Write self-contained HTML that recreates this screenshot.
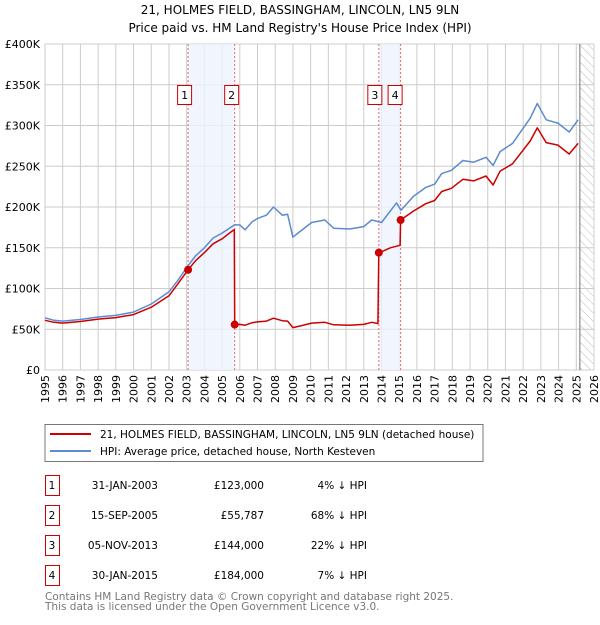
<!DOCTYPE html>
<html><head><meta charset="utf-8"><style>
body{margin:0;background:#fff;width:600px;height:620px;overflow:hidden}
svg{font-family:"DejaVu Sans","Liberation Sans",sans-serif}
</style></head><body>
<svg id="c" width="600" height="620" xmlns="http://www.w3.org/2000/svg">
<defs><pattern id="hatch" width="6" height="6" patternUnits="userSpaceOnUse" patternTransform="rotate(-45)"><line x1="0" y1="0" x2="0" y2="6" stroke="#bbb" stroke-width="1"/></pattern></defs>
<text x="300" y="14" text-anchor="middle" font-size="12">21, HOLMES FIELD, BASSINGHAM, LINCOLN, LN5 9LN</text>
<text x="300" y="32" text-anchor="middle" font-size="12">Price paid vs. HM Land Registry's House Price Index (HPI)</text>
<g id="grid"></g><g id="bands"></g><g id="series"></g><g id="marks"></g>
<rect x="45" y="424.5" width="438" height="37" fill="#fff" stroke="#777"/>
<line x1="50" y1="434" x2="91" y2="434" stroke="#cc0000" stroke-width="2"/>
<text x="100" y="438" font-size="10.5">21, HOLMES FIELD, BASSINGHAM, LINCOLN, LN5 9LN (detached house)</text>
<line x1="50" y1="451" x2="91" y2="451" stroke="#5b8bd0" stroke-width="2"/>
<text x="100" y="455" font-size="10.5">HPI: Average price, detached house, North Kesteven</text>
<g id="table" font-size="10.5"></g>
<text x="45" y="600" font-size="10.5" fill="#777">Contains HM Land Registry data © Crown copyright and database right 2025.</text>
<text x="45" y="610" font-size="10.5" fill="#777">This data is licensed under the Open Government Licence v3.0.</text>
</svg>
<script>
const yTicks=[0,50,100,150,200,250,300,350,400];
const yTickLabels=["£0","£50K","£100K","£150K","£200K","£250K","£300K","£350K","£400K"];
const years=[1995,1996,1997,1998,1999,2000,2001,2002,2003,2004,2005,2006,2007,2008,2009,2010,2011,2012,2013,2014,2015,2016,2017,2018,2019,2020,2021,2022,2023,2024,2025,2026];
const hpiT=[1995,1995.5,1996,1997,1998,1999,2000,2001,2002,2002.5,2003.08,2003.5,2004,2004.5,2005,2005.7,2006,2006.3,2006.7,2007,2007.5,2007.9,2008.4,2008.7,2009.0,2009.4,2010.06,2010.8,2011.3,2012.2,2013,2013.45,2014,2014.85,2015.1,2015.8,2016.5,2017,2017.4,2017.95,2018.6,2019.2,2019.9,2020.3,2020.7,2021.4,2022.4,2022.8,2023.3,2023.96,2024.6,2025.1];
const hpiV=[64,61,60,62,65,67,71,81,96,110,128,140,150,162,168,178,178,172,182,186,190,200,190,191,163,170,181,184,174,173,176,184,181,205,196,213,224,228,241,245,257,255,261,251,268,278,309,327,307,303,292,307];
const redT=[1995,1995.5,1996,1997,1998,1999,2000,2001,2002,2002.5,2003.08,2003.5,2004,2004.5,2005,2005.6,2005.69,2005.71,2006,2006.3,2006.7,2007,2007.5,2007.9,2008.4,2008.7,2009.0,2009.4,2010.06,2010.8,2011.3,2012.2,2013,2013.45,2013.8,2013.85,2014,2014.5,2015.05,2015.08,2015.8,2016.5,2017,2017.4,2017.95,2018.6,2019.2,2019.9,2020.3,2020.7,2021.4,2022.4,2022.8,2023.3,2023.96,2024.6,2025.1];
const redV=[61,58.5,57.6,59.5,62.4,64.3,68,77,91,105.6,123,134,144,155,161,171,172,55.8,56,55,58,59,60,63.5,60.5,60,52,54,57.5,58.5,55.5,55,56,58.5,57,144,145,150,153,184,195,204,208,219,223,234,232,238,227,244,253,281,297,279,276,265,278];
const saleT=[2003.08,2005.71,2013.85,2015.08];
const saleV=[123,55.787,144,184];
const saleLabels=["1","2","3","4"];
const saleDates=["31-JAN-2003","15-SEP-2005","05-NOV-2013","30-JAN-2015"];
const salePrices=["£123,000","£55,787","£144,000","£184,000"];
const salePct=["4% ↓ HPI","68% ↓ HPI","22% ↓ HPI","7% ↓ HPI"];
const X0=45,X1=594,Y0=370,Y1=44;
const xs=t=>X0+(t-1995)/31*(X1-X0);
const ys=v=>Y0-v/400*(Y0-Y1);
const NS="http://www.w3.org/2000/svg";
function mk(p,tag,a){const e=document.createElementNS(NS,tag);for(const k in a)e.setAttribute(k,a[k]);document.getElementById(p).appendChild(e);return e;}
let h=mk('grid','rect',{x:xs(2025.2),y:Y1,width:X1-xs(2025.2),height:Y0-Y1,fill:'url(#hatch)'});


years.forEach(y=>{const l=mk('grid','line',{x1:xs(y),x2:xs(y),y1:Y1,y2:Y0,stroke:'#ccc'});


const x=xs(y)+4;
const t=mk('grid','text',{x:x,y:375,'text-anchor':'end','font-size':'11',transform:'rotate(-90 '+x+' 375)'});t.textContent=y;

});
yTicks.forEach((v,i)=>{const l=mk('grid','line',{x1:X0,x2:X1,y1:ys(v),y2:ys(v),stroke:'#ccc'});


const t=mk('grid','text',{x:40,y:ys(v)+4,'text-anchor':'end','font-size':'11'});t.textContent=yTickLabels[i];

});
let vl=mk('grid','line',{x1:xs(2025.2),x2:xs(2025.2),y1:Y1,y2:Y0,stroke:'#888','stroke-width':1.2});


[[0,1],[2,3]].forEach(([a,b])=>{const r=mk('bands','rect',{x:xs(saleT[a]),y:Y1,width:xs(saleT[b])-xs(saleT[a]),height:Y0-Y1,fill:'#eef3fc',opacity:0.8});

});
saleT.forEach((t,i)=>{const l=mk('bands','line',{x1:xs(t),x2:xs(t),y1:Y1,y2:Y0,stroke:'#e66','stroke-dasharray':'2,2'});

});
function path(T,V,c,name){const d=T.map((t,i)=>(i?'L':'M')+xs(t).toFixed(1)+','+ys(V[i]).toFixed(1)).join('');
const p=mk('series','path',{d:d,fill:'none',stroke:c,'stroke-width':1.5,'stroke-linejoin':'round'});

}
path(hpiT,hpiV,'#5b8bd0','hpi-line');
path(redT,redV,'#cc0000','price-paid-line');
const boxX=[-3.5,-3,-4,-5.5];
saleT.forEach((t,i)=>{const c=mk('marks','circle',{cx:xs(t),cy:ys(saleV[i]),r:4,fill:'#cc0000'});


const cx=xs(t)+boxX[i];
const b=mk('marks','rect',{x:cx-7,y:85.5,width:14,height:19,fill:'#fff',stroke:'#cc0000'});


const tx=mk('marks','text',{x:cx,y:99,'text-anchor':'middle','font-size':'11'});tx.textContent=saleLabels[i];


const ry=475+i*30;
const tb=mk('table','rect',{x:45.5,y:ry+0.5,width:14,height:20,fill:'#fff',stroke:'#cc0000'});


const cells=[[52,'middle',saleLabels[i],'table-index'],[158,'end',saleDates[i],'table-date'],[264,'end',salePrices[i],'table-price'],[367,'end',salePct[i],'table-hpi-diff']];
cells.forEach(([x,a,s,n])=>{const e=mk('table','text',{x:x,y:ry+14,'text-anchor':a});e.textContent=s;

});});
</script>
</body></html>
